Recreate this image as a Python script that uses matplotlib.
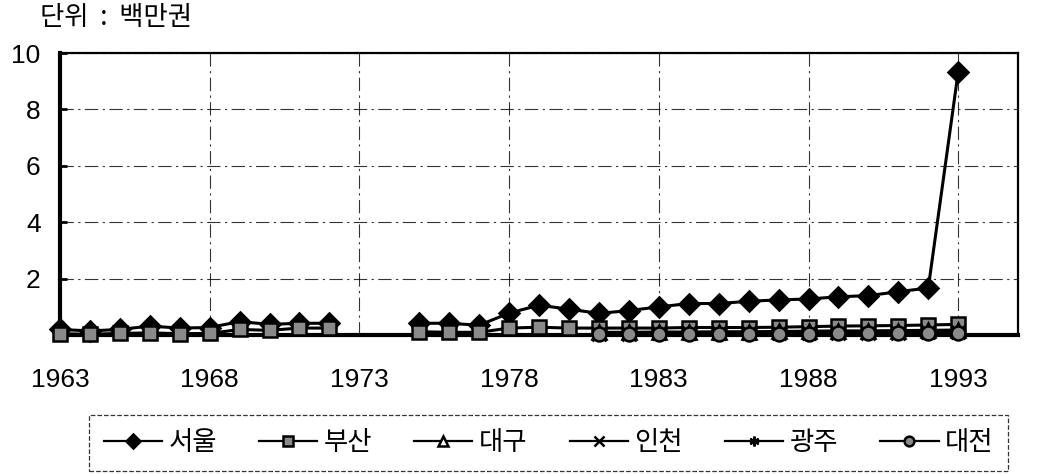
import matplotlib
matplotlib.use("Agg")
import matplotlib.pyplot as plt
import numpy as np

plt.rcParams["font.family"] = ["Noto Sans CJK KR", "DejaVu Sans"]

# ── Data (단위: 백만권) ─────────────────────────────────────────────
years = list(range(1963, 1994))
nan = np.nan

seoul = [0.20, 0.15, 0.20, 0.32, 0.25, 0.27, 0.48, 0.38, 0.42, 0.42,
         nan, nan,
         0.42, 0.42, 0.35, 0.78, 1.06, 0.92, 0.77, 0.87, 1.00, 1.12,
         1.12, 1.20, 1.25, 1.28, 1.36, 1.40, 1.54, 1.67, 9.34]
busan = [0.05, 0.03, 0.06, 0.08, 0.05, 0.06, 0.20, 0.17, 0.25, 0.25,
         nan, nan,
         0.12, 0.10, 0.10, 0.25, 0.28, 0.25, 0.25, 0.25, 0.25, 0.27,
         0.27, 0.27, 0.28, 0.30, 0.32, 0.33, 0.34, 0.36, 0.38]
daegu = [nan] * 18 + [0.10, 0.10, 0.11, 0.11, 0.12, 0.12, 0.13,
                      0.14, 0.15, 0.15, 0.16, 0.17, 0.18]
incheon = [nan] * 18 + [0.05, 0.05, 0.06, 0.06, 0.06, 0.07, 0.07,
                        0.08, 0.08, 0.09, 0.09, 0.10, 0.10]
gwangju = [nan] * 18 + [0.04, 0.04, 0.04, 0.05, 0.05, 0.05, 0.06,
                        0.06, 0.06, 0.07, 0.07, 0.07, 0.08]
daejeon = [nan] * 18 + [0.03, 0.03, 0.04, 0.04, 0.04, 0.05, 0.05,
                        0.05, 0.06, 0.06, 0.06, 0.07, 0.07]

series = [
    ("서울", seoul, "D", "black"),
    ("부산", busan, "s", "#8a8a8a"),
    ("대구", daegu, "^", "white"),
    ("인천", incheon, "x", "black"),
    ("광주", gwangju, (6, 2, 0), "black"),
    ("대전", daejeon, "o", "#8a8a8a"),
]

xticks = [1963, 1968, 1973, 1978, 1983, 1988, 1993]
yticks = [2, 4, 6, 8, 10]

# ── Plot ─────────────────────────────────────────────────────────────
fig = plt.figure(figsize=(10.41, 4.74), dpi=100)
ax = fig.add_axes([0.0576, 0.293, 0.9204, 0.595])

for name, vals, marker, face in series:
    ax.plot(years, vals, color="black", linewidth=2.2, marker=marker,
            markersize=10, markerfacecolor=face, markeredgecolor="black",
            markeredgewidth=1.8, label=name, clip_on=False, zorder=3)

ax.set_xlim(1963, 1995)
ax.set_ylim(0, 10)
ax.set_xticks(xticks)
ax.set_yticks(yticks)
ax.tick_params(axis="y", direction="in", length=5, width=2, pad=14)
ax.tick_params(axis="x", length=0, pad=24)
for lbl in ax.get_xticklabels() + ax.get_yticklabels():
    lbl.set_family("Liberation Sans")
    lbl.set_fontsize(19)
ax.grid(True, color="black", linestyle=(0, (12, 4, 2, 4)),
        linewidth=0.8, alpha=0.8)

for side in ("left", "bottom"):
    ax.spines[side].set_linewidth(3)
for side in ("top", "right"):
    ax.spines[side].set_linewidth(1.6)

fig.text(0.038, 0.963, "단위  :  백만권", fontsize=19, va="center", ha="left")

leg = fig.legend(loc="center", bbox_to_anchor=(0.527, 0.066), ncol=6,
                 fontsize=19, frameon=True, fancybox=False,
                 handlelength=2.2, handletextpad=0.25, columnspacing=1.6,
                 borderpad=0.55, markerscale=0.7)
for line in leg.get_lines():
    line.set_linewidth(1.6)
frame = leg.get_frame()
frame.set_edgecolor("black")
frame.set_linestyle("--")
frame.set_linewidth(0.9)

fig.savefig("out.png", dpi=100)
